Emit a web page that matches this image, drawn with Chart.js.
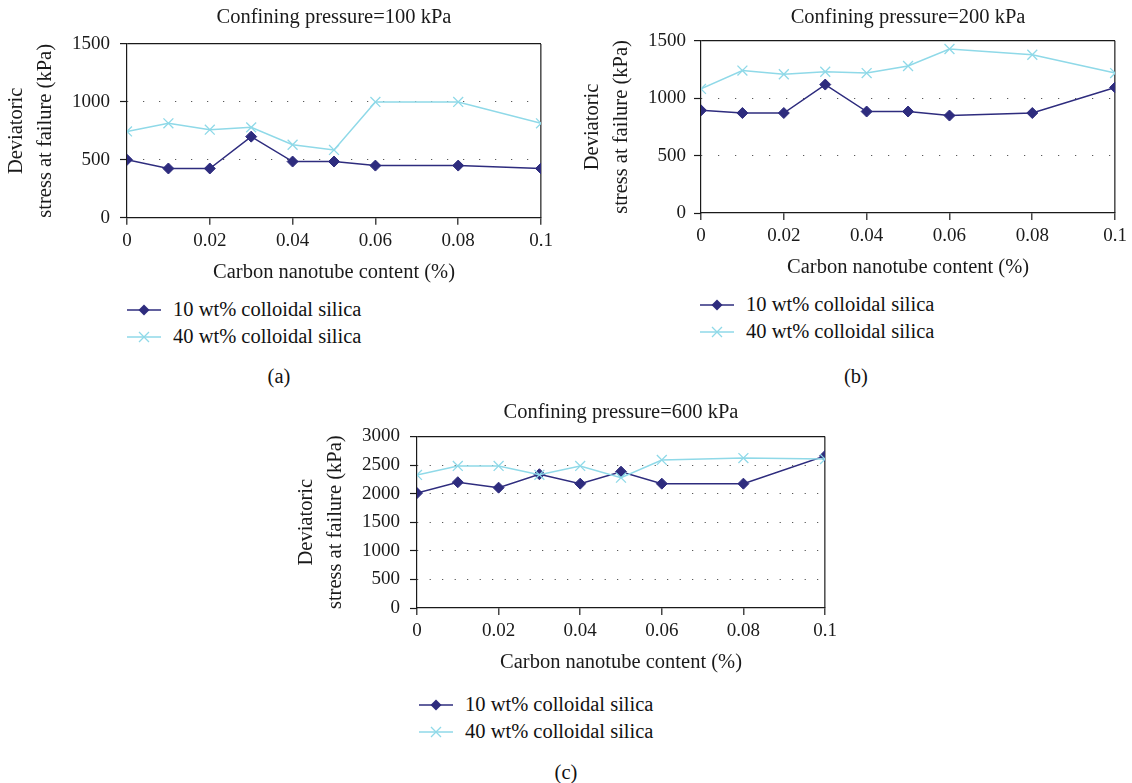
<!DOCTYPE html>
<html>
<head>
<meta charset="utf-8">
<script src="https://cdn.jsdelivr.net/npm/chart.js@4/dist/chart.umd.min.js"></script>
<style>
  body { margin: 0; background: #fff; font-family: "Liberation Serif", "DejaVu Serif", serif; }
  #page { position: relative; width: 1132px; height: 783px; overflow: hidden; }
  canvas { position: absolute; }
  .legend { position: absolute; font-size: 20.5px; color: #111; }
  .legend .item { height: 27px; display: flex; align-items: center; white-space: nowrap; }
  .legend svg { margin-right: 12px; }
  .panel { position: absolute; font-size: 20.5px; color: #111; transform: translate(-50%, -50%); }
</style>
</head>
<body>
<div id="page">
  <canvas id="chartA"></canvas>
  <canvas id="chartB"></canvas>
  <canvas id="chartC"></canvas>
  <div class="legend" id="legendA" style="left:127px;top:296px"></div>
  <div class="legend" id="legendB" style="left:700px;top:291px"></div>
  <div class="legend" id="legendC" style="left:419px;top:691px"></div>
  <div class="panel" style="left:279px;top:376px">(a)</div>
  <div class="panel" style="left:856px;top:376px">(b)</div>
  <div class="panel" style="left:566px;top:772px">(c)</div>
</div>
<script>
// carbon nanotube content (%) for every measured point
const contentX = [0, 0.01, 0.02, 0.03, 0.04, 0.05, 0.06, 0.08, 0.1];
const xTickValues = [0, 0.02, 0.04, 0.06, 0.08, 0.1];
const xTickLabels = ['0', '0.02', '0.04', '0.06', '0.08', '0.1'];
const seriesNames = ['10 wt% colloidal silica', '40 wt% colloidal silica'];

// deviatoric stress at failure (kPa)
const stress100Low = [500, 425, 425, 700, 485, 485, 450, 450, 425];
const stress100High = [745, 815, 760, 780, 630, 585, 1000, 1000, 815];
const stress200Low = [895, 872, 872, 1120, 885, 885, 850, 872, 1095];
const stress200High = [1082, 1242, 1210, 1232, 1220, 1282, 1430, 1380, 1220];
const stress600Low = [2010, 2200, 2105, 2340, 2175, 2385, 2175, 2175, 2660];
const stress600High = [2328, 2485, 2485, 2330, 2485, 2280, 2590, 2622, 2605];

const yTicks100 = [0, 500, 1000, 1500];
const yTicks600 = [0, 500, 1000, 1500, 2000, 2500, 3000];

const NAVY = '#2e2c7e';
const CYAN = '#8fd9e8';
const INK = '#1a1a1a';
const FRAME = '#555';
const DOT = '#333';
const SERIF = '"Liberation Serif", "DejaVu Serif", serif';

function makeChart(id, box, title, low, high, yTicks) {
  const canvas = document.getElementById(id);
  canvas.width = box.w;
  canvas.height = box.h;
  canvas.style.left = box.x + 'px';
  canvas.style.top = box.y + 'px';
  const lastY = yTicks.length - 1;

  return new Chart(canvas, {
    type: 'line',
    data: {
      datasets: [
        {
          label: seriesNames[0],
          data: contentX.map((x, i) => ({ x: x, y: low[i] })),
          borderColor: NAVY,
          backgroundColor: NAVY,
          borderWidth: 1.5,
          pointStyle: 'rectRot',
          pointRadius: 5.5,
          pointBorderWidth: 1,
          order: 1
        },
        {
          label: seriesNames[1],
          data: contentX.map((x, i) => ({ x: x, y: high[i] })),
          borderColor: CYAN,
          backgroundColor: CYAN,
          borderWidth: 1.5,
          pointStyle: 'crossRot',
          pointRadius: 7,
          pointBorderWidth: 1.3,
          order: 0
        }
      ]
    },
    options: {
      responsive: false,
      animation: false,
      events: [],
      layout: { padding: { left: 0, right: box.padRight, top: 0, bottom: 0 } },
      plugins: {
        legend: { display: false },
        tooltip: { enabled: false },
        title: {
          display: true,
          text: title,
          fullSize: false,
          color: INK,
          font: { family: SERIF, size: 20.5, weight: 'normal', lineHeight: 1.2 },
          padding: { top: 5.7, bottom: box.titleGap }
        }
      },
      scales: {
        x: {
          type: 'linear',
          min: 0,
          max: 0.1,
          afterBuildTicks: s => { s.ticks = xTickValues.map(v => ({ value: v })); },
          afterFit: s => { s.height = box.xh; },
          ticks: {
            callback: (v, i) => xTickLabels[i],
            color: INK,
            font: { family: SERIF, size: 19 },
            padding: 5,
            maxRotation: 0,
            autoSkip: false
          },
          grid: {
            // only the right-hand frame line is drawn
            color: c => c.index === xTickValues.length - 1 ? FRAME : 'transparent',
            lineWidth: 1.6,
            tickColor: INK,
            tickLength: 7,
            tickWidth: 1.2
          },
          border: { color: INK, width: 1.2 },
          title: {
            display: true,
            text: 'Carbon nanotube content (%)',
            color: INK,
            font: { family: SERIF, size: 20.5, lineHeight: 1.2 },
            padding: { top: 0, bottom: 0 }
          }
        },
        y: {
          min: 0,
          max: yTicks[lastY],
          afterBuildTicks: s => { s.ticks = yTicks.map(v => ({ value: v })); },
          afterFit: s => { s.width = box.yw; },
          ticks: {
            callback: v => String(v),
            color: INK,
            font: { family: SERIF, size: 19 },
            padding: box.yPad
          },
          grid: {
            color: c => c.index === 0 ? 'transparent' : (c.index === lastY ? INK : DOT),
            lineWidth: c => c.index === lastY ? 1.2 : 1,
            tickColor: INK,
            tickLength: 7,
            tickWidth: 1.2,
            tickBorderDash: []
          },
          border: {
            color: INK,
            width: 1.2,
            dash: c => c.index === lastY ? [] : box.dots
          },
          title: {
            display: true,
            text: ['Deviatoric', 'stress at failure (kPa)'],
            color: INK,
            font: { family: SERIF, size: 20.5, lineHeight: 29 / 20.5 },
            padding: { top: 2.5, bottom: 0 }
          }
        }
      }
    }
  });
}

// legend rows built from the chart's own datasets
function fillLegend(id, chart) {
  const host = document.getElementById(id);
  chart.data.datasets.forEach(ds => {
    const row = document.createElement('div');
    row.className = 'item';
    let mark;
    if (ds.pointStyle === 'rectRot') {
      mark = '<polygon points="17,1.5 22.5,7 17,12.5 11.5,7" fill="' + ds.borderColor + '"/>';
    } else {
      mark = '<path d="M12,2 L22,12 M22,2 L12,12" stroke="' + ds.borderColor + '" stroke-width="1.3"/>';
    }
    row.innerHTML = '<svg width="34" height="14"><line x1="0" y1="7" x2="34" y2="7" stroke="' +
      ds.borderColor + '" stroke-width="1.5"/>' + mark + '</svg><span>' + ds.label + '</span>';
    host.appendChild(row);
  });
}

const chartA = makeChart('chartA',
  { x: 0, y: 0, w: 560, h: 285, padRight: 19, yw: 127, xh: 67.3, titleGap: 13.7, yPad: 10, dots: [1, 15] },
  'Confining pressure=100 kPa', stress100Low, stress100High, yTicks100);
const chartB = makeChart('chartB',
  { x: 576, y: 0, w: 556, h: 280, padRight: 16, yw: 125, xh: 67, titleGap: 10.7, yPad: 8, dots: [1, 16] },
  'Confining pressure=200 kPa', stress200Low, stress200High, yTicks100);
const chartC = makeChart('chartC',
  { x: 290, y: 395, w: 560, h: 280, padRight: 25, yw: 127, xh: 67, titleGap: 11.2, yPad: 10, dots: [1, 11.5] },
  'Confining pressure=600 kPa', stress600Low, stress600High, yTicks600);

fillLegend('legendA', chartA);
fillLegend('legendB', chartB);
fillLegend('legendC', chartC);
</script>
</body>
</html>
